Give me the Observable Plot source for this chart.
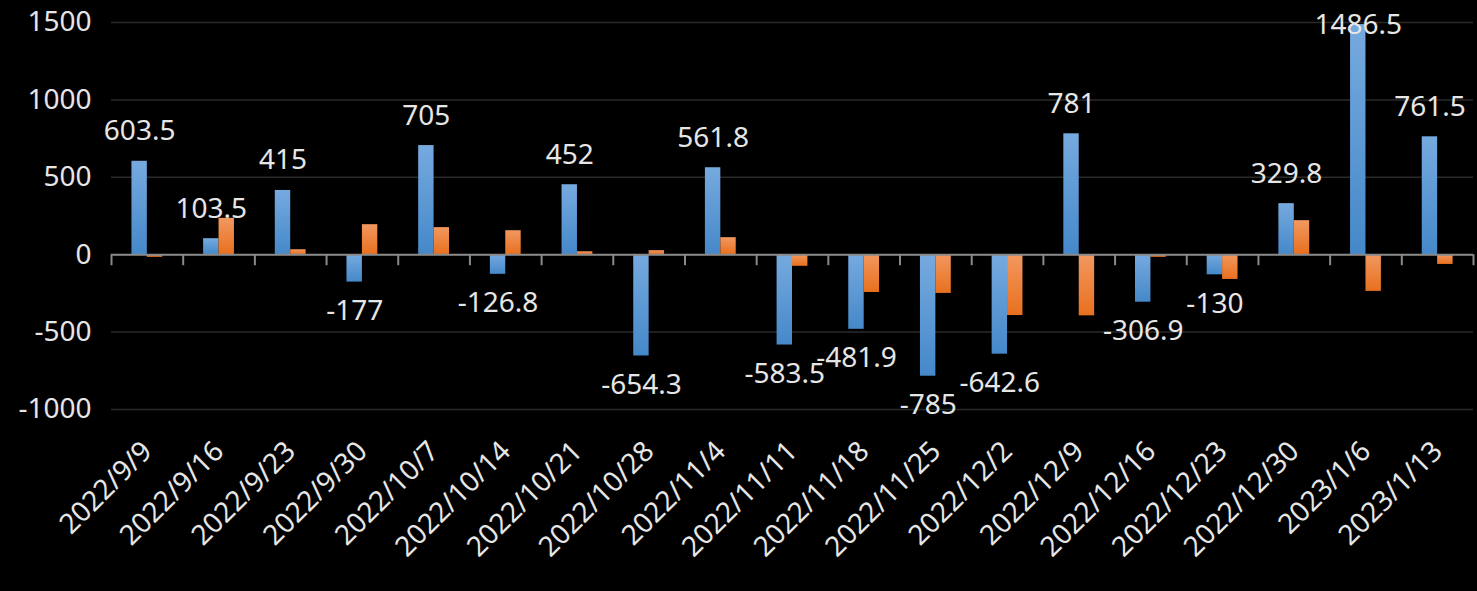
<!DOCTYPE html>
<html><head><meta charset="utf-8">
<script src="https://cdn.jsdelivr.net/npm/d3@7"></script>
<script src="https://cdn.jsdelivr.net/npm/@observablehq/plot@0.6"></script>
<style>html,body{margin:0;padding:0;background:#000;overflow:hidden}</style>
</head><body><div id="chart"></div>
<script>
const dates = ["2022/9/9","2022/9/16","2022/9/23","2022/9/30","2022/10/7","2022/10/14","2022/10/21","2022/10/28","2022/11/4","2022/11/11","2022/11/18","2022/11/25","2022/12/2","2022/12/9","2022/12/16","2022/12/23","2022/12/30","2023/1/6","2023/1/13"];
const blueValues = [603.5,103.5,415,-177,705,-126.8,452,-654.3,561.8,-583.5,-481.9,-785,-642.6,781,-306.9,-130,329.8,1486.5,761.5];
const orangeValues = [-17,235,32,194,175,155,19,26,110,-75,-244,-250,-393,-395,-17,-160,220,-237,-63];
const yTicks = [-1000,-500,0,500,1000,1500];

const W = 1477, H = 591, mL = 111, mR = 4, mT = 22, mB = 182;
const step = (W - mL - mR) / dates.length;
const pInner = 0.57;
const bw = step * (1 - pInner);

const rows = dates.map((d, i) => ({date: d, blue: blueValues[i], orange: orangeValues[i]}));
const topLimit = 1300;

const chart = Plot.plot({
  width: W, height: H,
  marginLeft: mL, marginRight: mR, marginTop: mT, marginBottom: mB,
  style: {background: "#000", color: "#e6e6e6", fontFamily: "'Noto Sans', 'Open Sans', sans-serif"},
  x: {domain: dates, type: "band", paddingInner: pInner, paddingOuter: pInner / 2, round: false},
  y: {domain: [-1000, 1500]},
  marks: [
    Plot.gridY(yTicks, {stroke: "#2a2a2a", strokeOpacity: 1, strokeWidth: 1.5}),
    Plot.axisY({ticks: yTicks, tickFormat: d => String(d), tickSize: 0, tickPadding: 20, fontSize: 28, label: null, fill: "#e6e6e6"}),
    Plot.axisX({tickSize: 0, tickRotate: -45, tickPadding: 37, fontSize: 28, label: null, fill: "#e6e6e6"}),
    Plot.barY(rows, {x: "date", y: "blue", fill: "url(#gBlue)", insetRight: bw / 2}),
    Plot.barY(rows, {x: "date", y: "orange", fill: "url(#gOrange)", insetLeft: bw / 2}),
    Plot.ruleY([0], {stroke: "#8a8a8a", strokeWidth: 2}),
    Plot.ruleX(dates, {x: d => d, y1: () => 0, y2: () => 0, insetBottom: -11, dx: -step / 2, stroke: "#8a8a8a", strokeWidth: 2}),
    Plot.ruleX(dates.slice(-1), {x: d => d, y1: () => 0, y2: () => 0, insetBottom: -11, dx: step / 2, stroke: "#8a8a8a", strokeWidth: 2}),
    Plot.text(rows.filter(r => r.blue >= 0 && r.blue < topLimit), {x: "date", y: "blue", text: r => String(r.blue), dx: -bw / 4, dy: -21, lineAnchor: "bottom", fontSize: 28, fill: "#e6e6e6"}),
    Plot.text(rows.filter(r => r.blue >= topLimit), {x: "date", y: "blue", text: r => String(r.blue), dx: -bw / 4, dy: 0, lineAnchor: "middle", fontSize: 28, fill: "#e6e6e6"}),
    Plot.text(rows.filter(r => r.blue < 0), {x: "date", y: "blue", text: r => String(r.blue), dx: -bw / 4, dy: 18, lineAnchor: "top", fontSize: 28, fill: "#e6e6e6"})
  ]
});

const ns = "http://www.w3.org/2000/svg";
const defs = document.createElementNS(ns, "defs");
function grad(id, c1, c2) {
  const g = document.createElementNS(ns, "linearGradient");
  g.setAttribute("id", id); g.setAttribute("x1", "0"); g.setAttribute("y1", "0"); g.setAttribute("x2", "0"); g.setAttribute("y2", "1");
  [[0, c1], [1, c2]].forEach(([o, c]) => {
    const s = document.createElementNS(ns, "stop");
    s.setAttribute("offset", o); s.setAttribute("stop-color", c);
    g.appendChild(s);
  });
  defs.appendChild(g);
}
grad("gBlue", "#76aadf", "#4588c9");
grad("gOrange", "#f29860", "#e8701e");
chart.insertBefore(defs, chart.firstChild);
document.getElementById("chart").appendChild(chart);
</script>
</body></html>
